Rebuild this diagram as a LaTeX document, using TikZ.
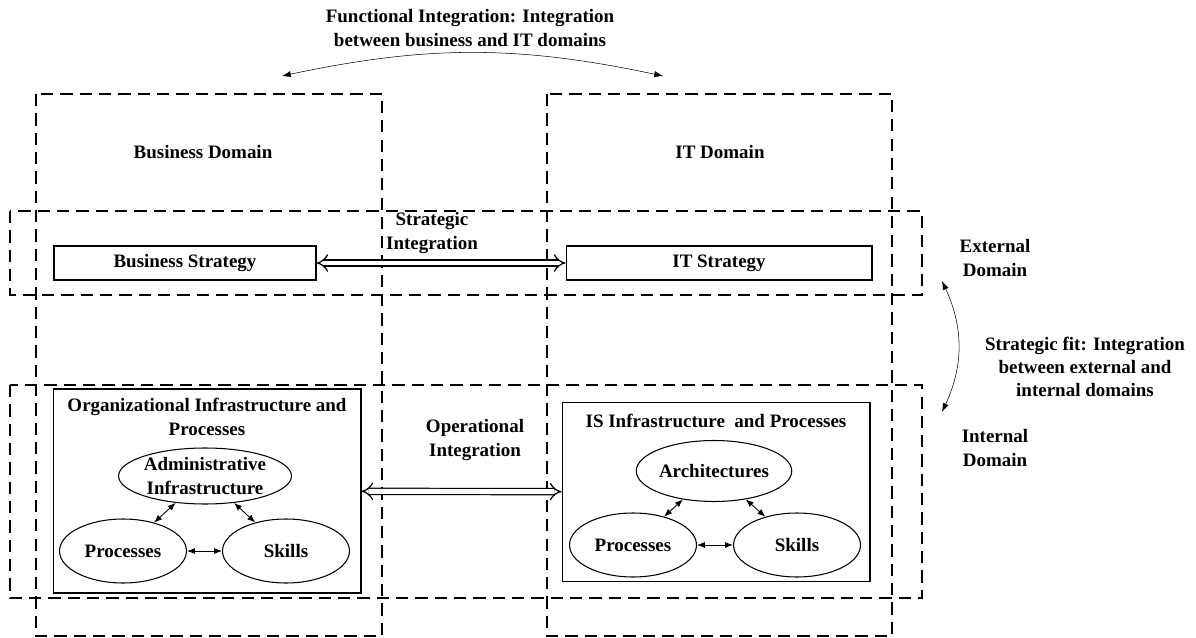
\documentclass[tikz,border=0pt]{standalone}
\usepackage{fontspec}
\setmainfont{Liberation Serif}
\usetikzlibrary{arrows.meta,shapes.geometric}

\tikzset{
  domainbox/.style={draw,dash pattern=on 7pt off 4pt,line width=0.8pt},
  box/.style={draw,rectangle,line width=0.6pt},
  oval/.style={draw,ellipse,line width=0.6pt,minimum width=2.54cm,minimum height=1.28cm,inner sep=0pt,align=center},
  link/.style={{Latex[length=4.5pt,width=3.5pt]}-{Latex[length=4.5pt,width=3.5pt]},line width=0.5pt},
  integ/.style={double,double distance=2.8pt,line width=0.7pt,{Implies}-{Implies}},
  bender/.style={line width=0.3pt,{Latex[length=5pt,width=3.5pt]}-{Latex[length=5pt,width=3.5pt]}},
  lbl/.style={align=center,inner sep=0pt},
  every node/.style={font=\fontsize{10.8}{13.2}\selectfont\bfseries}
}

\begin{document}
\begin{tikzpicture}[x=0.02cm,y=-0.02cm]
\useasboundingbox (0,0) rectangle (1196,638);

% the four domains
\draw[domainbox] (36,94) rectangle (382,636);
\draw[domainbox] (547,94) rectangle (892,636);
\draw[domainbox] (10,211) rectangle (922,295);
\draw[domainbox] (10,385) rectangle (922,598);

\node[lbl] (bdom) at (203,152) {Business Domain};
\node[lbl] (itdom) at (720,152) {IT Domain};

% strategy level
\node[box,minimum width=5.24cm,minimum height=0.68cm] (bstrat) at (185,263) {Business Strategy};
\node[box,minimum width=6.12cm,minimum height=0.68cm] (itstrat) at (719,263) {IT Strategy};
\draw[integ] (bstrat) -- (itstrat);
\node[lbl] (sinteg) at (432,233) {Strategic\\Integration};

% infrastructure level
\node[box,minimum width=6.16cm,minimum height=4.08cm] (orginf) at (207,491) {};
\node[lbl] (orgtitle) at (207,417) {Organizational Infrastructure and\\Processes};
\node[oval,minimum height=1.12cm] (adminf) at (205,476) {Administrative\\Infrastructure};
\node[oval] (bproc) at (123,551) {Processes};
\node[oval] (bskill) at (286,551) {Skills};
\draw[link] (adminf) -- (bproc);
\draw[link] (adminf) -- (bskill);
\draw[link] (bproc) -- (bskill);

\node[box,minimum width=6.16cm,minimum height=3.58cm] (isinf) at (716,492) {};
\node[lbl] (istitle) at (716,421) {IS Infrastructure\ \ and Processes};
\node[oval,minimum height=1.22cm] (arch) at (714,471) {Architectures};
\node[oval] (iproc) at (633,545) {Processes};
\node[oval] (iskill) at (797,545) {Skills};
\draw[link] (arch) -- (iproc);
\draw[link] (arch) -- (iskill);
\draw[link] (iproc) -- (iskill);

\draw[integ] (orginf) -- (isinf);
\node[lbl] (ointeg) at (475,440) {Operational\\Integration};

% functional integration
\node[lbl] (finteg) at (470,28) {Functional Integration: Integration\\between business and IT domains};
\coordinate (fleft) at (282,76);
\coordinate (fright) at (663,76);
\draw[bender] (fleft) to[bend left=12] (fright);

% strategic fit
\node[lbl] (extdom) at (995,258) {External\\Domain};
\node[lbl] (intdom) at (995,448) {Internal\\Domain};
\node[lbl] (sfit) at (1085,367) {Strategic fit: Integration\\between external and\\internal domains};
\coordinate (ftop) at (942,281);
\coordinate (fbot) at (942,412);
\draw[bender] (ftop) to[bend left=25] (fbot);
\end{tikzpicture}
\end{document}
